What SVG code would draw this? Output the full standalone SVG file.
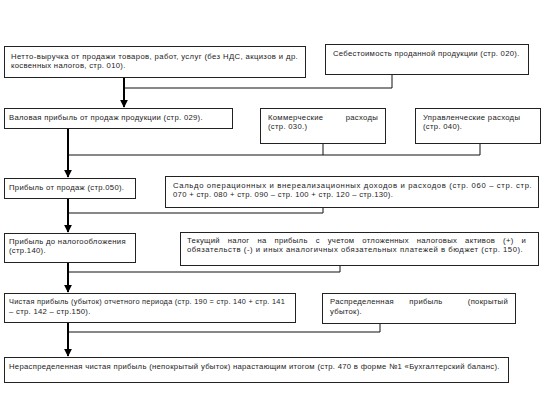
<svg xmlns="http://www.w3.org/2000/svg" width="545" height="400" viewBox="0 0 545 400">
<defs>
<style>
.box{fill:#fff;stroke:#222;stroke-width:1}
.t{font-family:"Liberation Sans",Arial,sans-serif;font-size:7.7px;letter-spacing:0.3px;fill:#222}
.ln{fill:none;stroke:#111;stroke-width:1}
.ar{fill:none;stroke:#000;stroke-width:2}
</style>
<marker id="ah" viewBox="0 0 10 10" refX="9" refY="5" markerWidth="4" markerHeight="4" orient="auto" markerUnits="strokeWidth">
<path d="M0,0 L10,5 L0,10 z" fill="#000"/>
</marker>
</defs>
<rect width="545" height="400" fill="#fff"/>
<g id="connectors">
<path class="ln" d="M392,74 V88 H124"/>
<path class="ar" d="M124,77 V107" marker-end="url(#ah)"/>
<path class="ln" d="M323,143 V155 M480,143 V155 M68,155 H480"/>
<path class="ar" d="M68,128 V177" marker-end="url(#ah)"/>
<path class="ln" d="M323,207 V213 H68"/>
<path class="ar" d="M68,198 V232" marker-end="url(#ah)"/>
<path class="ln" d="M340,265 V272 H68"/>
<path class="ar" d="M68,262 V292" marker-end="url(#ah)"/>
<path class="ln" d="M380,323 V332 H68"/>
<path class="ar" d="M68,322 V356" marker-end="url(#ah)"/>
</g>
<g id="n1"><rect class="box" x="4.5" y="46.5" width="301" height="31"/>
<text class="t" x="11" y="59" textLength="287" lengthAdjust="spacing">Нетто-выручка от продажи товаров, работ, услуг (без НДС, акцизов и др.</text>
<text class="t" x="11" y="68">косвенных налогов, стр. 010).</text></g>
<g id="n2"><rect class="box" x="325.5" y="44.5" width="203" height="30"/>
<text class="t" x="333" y="56">Себестоимость проданной продукции (стр. 020).</text></g>
<g id="n3"><rect class="box" x="4.5" y="108.5" width="228" height="20"/>
<text class="t" x="9" y="120">Валовая прибыль от продаж продукции (стр. 029).</text></g>
<g id="n4"><rect class="box" x="260.5" y="108.5" width="125" height="35"/>
<text class="t" x="268" y="120">Коммерческие</text>
<text class="t" x="378" y="120" text-anchor="end">расходы</text>
<text class="t" x="268" y="129">(стр. 030.)</text></g>
<g id="n5"><rect class="box" x="415.5" y="108.5" width="125" height="35"/>
<text class="t" x="423" y="120">Управленческие расходы</text>
<text class="t" x="423" y="129">(стр. 040).</text></g>
<g id="n6"><rect class="box" x="4.5" y="178.5" width="131" height="20"/>
<text class="t" x="9" y="190">Прибыль от продаж (стр.050).</text></g>
<g id="n7"><rect class="box" x="165.5" y="176.5" width="373" height="31"/>
<text class="t" x="173" y="188" textLength="359" lengthAdjust="spacing">Сальдо операционных и внереализационных доходов и расходов (стр. 060 – стр. стр.</text>
<text class="t" x="173" y="197">070 + стр. 080 + стр. 090 – стр. 100 + стр. 120 – стр.130).</text></g>
<g id="n8"><rect class="box" x="4.5" y="233.5" width="131" height="29"/>
<text class="t" x="9" y="244">Прибыль до налогообложения</text>
<text class="t" x="9" y="253">(стр.140).</text></g>
<g id="n9"><rect class="box" x="180.5" y="232.5" width="358" height="33"/>
<text class="t" x="187" y="243" word-spacing="5.5">Текущий налог на прибыль с учетом отложенных налоговых активов (+) и</text>
<text class="t" x="187" y="252" textLength="336" lengthAdjust="spacing">обязательств (-) и иных аналогичных обязательных платежей в бюджет (стр. 150).</text></g>
<g id="n10"><rect class="box" x="4.5" y="293.5" width="291" height="29"/>
<text class="t" x="9" y="304" textLength="276" lengthAdjust="spacingAndGlyphs">Чистая прибыль (убыток) отчетного периода (стр. 190 = стр. 140 + стр. 141</text>
<text class="t" x="9" y="314">– стр. 142 – стр.150).</text></g>
<g id="n11"><rect class="box" x="322.5" y="293.5" width="193" height="30"/>
<text class="t" x="330" y="304">Распределенная</text>
<text class="t" x="426" y="304" text-anchor="middle">прибыль</text>
<text class="t" x="508" y="304" text-anchor="end">(покрытый</text>
<text class="t" x="330" y="314">убыток).</text></g>
<g id="n12"><rect class="box" x="4.5" y="357.5" width="504" height="25"/>
<text class="t" x="9" y="369">Нераспределенная чистая прибыль (непокрытый убыток) нарастающим итогом (стр. 470 в форме №1 «Бухгалтерский баланс).</text></g>
</svg>
